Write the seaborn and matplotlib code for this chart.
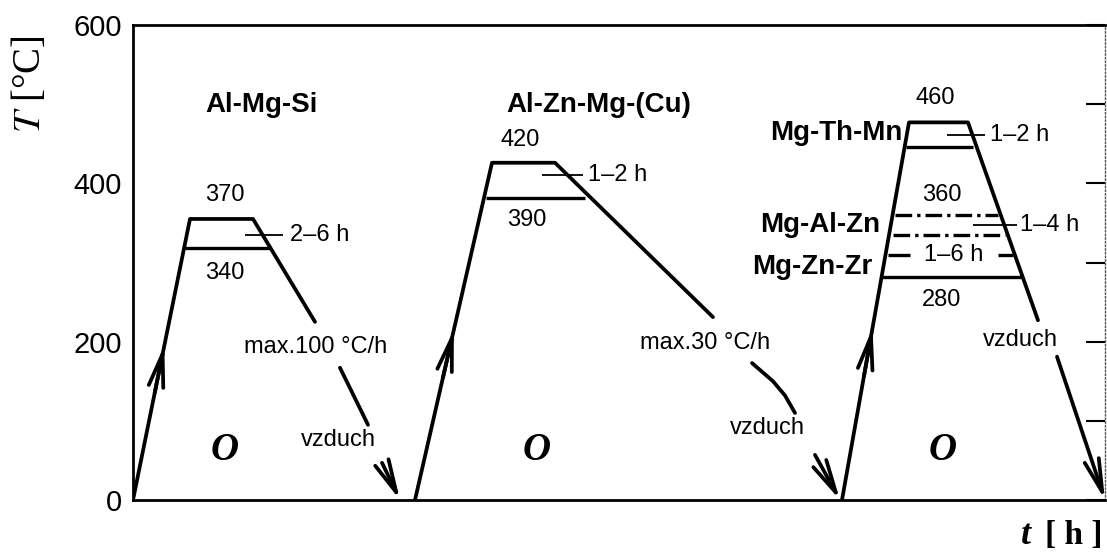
import matplotlib.pyplot as plt
import seaborn as sns

# Al-Mg-Si (t je jen schematicky cas, T ve °C)
almgsi_t = [0, 57, 120, 182]
almgsi_T = [0, 355, 355, 225]
almgsi_low_t = [52, 137]
almgsi_low_T = 318
almgsi_air_t = [207, 235]
almgsi_air_T = [167, 95]
almgsi_cool_t = [249, 267]
almgsi_cool_T = [47, 0]

# Al-Zn-Mg-(Cu)
alznmg_t = [282, 359, 422, 580]
alznmg_T = [0, 426, 426, 231]
alznmg_low_t = [353, 452]
alznmg_low_T = 381
alznmg_air_t = [619, 640, 652, 662]
alznmg_air_T = [173, 150, 132, 110]
alznmg_cool_t = [682, 707]
alznmg_cool_T = [57, 0]

# Mg slitiny
mg_t = [709, 776, 835, 905]
mg_T = [0, 477, 477, 227]
mg_cool_t = [924, 972]
mg_cool_T = [181, 0]
mg_levels_T = [446, 360, 335, 282]
mg_levels_from = [773, 762, 760, 749]
mg_levels_to = [840, 865, 872, 890]
mg_znzr_T = 309
mg_znzr_left = [755, 777]
mg_znzr_right = [865, 880]

yticks = [0, 100, 200, 300, 400, 500, 600]
ytick_labels = ["0", "", "200", "", "400", "", "600"]

sns.set_style("white")
plt.rcParams['font.family'] = ['Liberation Sans', 'DejaVu Sans']
plt.rcParams['mathtext.fontset'] = 'stix'
plt.rcParams['text.color'] = 'black'
plt.rcParams['ytick.color'] = 'black'

fig, ax = plt.subplots(figsize=(11.07, 5.54), dpi=100)
fig.subplots_adjust(left=133/1107, right=1105/1107, top=1 - 25/554, bottom=1 - 500/554)

LW = 2.7
kw = dict(color="black", sort=False, estimator=None, legend=False, ax=ax)

# hlavni krivky
sns.lineplot(x=almgsi_t, y=almgsi_T, lw=LW, **kw)
sns.lineplot(x=almgsi_air_t, y=almgsi_air_T, lw=LW, **kw)
sns.lineplot(x=alznmg_t, y=alznmg_T, lw=LW, **kw)
sns.lineplot(x=alznmg_air_t, y=alznmg_air_T, lw=LW, **kw)
sns.lineplot(x=mg_t, y=mg_T, lw=LW, **kw)

# spodni hladiny
ax.hlines(almgsi_low_T, *almgsi_low_t, color="black", lw=2.4)
ax.hlines(alznmg_low_T, *alznmg_low_t, color="black", lw=2.4)
styles = ["-", (0, (5, 1.5, 1, 1.5)), (0, (5, 1.5, 1, 1.5)), "-"]
for T, a, b, ls in zip(mg_levels_T, mg_levels_from, mg_levels_to, styles):
    ax.hlines(T, a, b, color="black", lw=2.4, linestyles=ls)
ax.hlines(mg_znzr_T, *mg_znzr_left, color="black", lw=2.4)
ax.hlines(mg_znzr_T, *mg_znzr_right, color="black", lw=2.4)

# sipky
head = "->,head_length=1.7,head_width=0.38"
def arrow(t0, T0, t1, T1):
    ax.annotate("", xy=(t1, T1), xytext=(t0, T0),
                arrowprops=dict(arrowstyle=head, lw=LW, color="black",
                                shrinkA=0, shrinkB=0, mutation_scale=14))

arrow(almgsi_cool_t[0], almgsi_cool_T[0], almgsi_cool_t[1], almgsi_cool_T[1])
arrow(alznmg_cool_t[0], alznmg_cool_T[0], alznmg_cool_t[1], alznmg_cool_T[1])
arrow(mg_cool_t[0], mg_cool_T[0], mg_cool_t[1], mg_cool_T[1])
# ohrev - sipky na stoupajicich vetvich
for t_lo, T_hi, t_hi, T_tip in [(almgsi_t[0], almgsi_T[1], almgsi_t[1], 195),
                                (alznmg_t[0], alznmg_T[1], alznmg_t[1], 215),
                                (mg_t[0], mg_T[1], mg_t[1], 217)]:
    k = (t_hi - t_lo) / T_hi
    arrow(t_lo + k * (T_tip - 60), T_tip - 60, t_lo + k * T_tip, T_tip)

# popisky
fs = 17
bold = dict(fontsize=20, fontweight="bold", va="center")
ax.text(128, 499, "Al-Mg-Si", ha="center", **bold)
ax.text(466, 499, "Al-Zn-Mg-(Cu)", ha="center", **bold)
ax.text(769, 464, "Mg-Th-Mn", ha="right", **bold)
ax.text(747, 347, "Mg-Al-Zn", ha="right", **bold)
ax.text(739, 294, "Mg-Zn-Zr", ha="right", **bold)

def txt(t, T, s, ha="center"):
    ax.text(t, T, s, fontsize=fs, ha=ha, va="center")

txt(92, 385, "370")
txt(92, 287, "340")
txt(157, 335, "2–6 h", ha="left")
txt(183, 193, "max.100 °C/h")
txt(205, 76, "vzduch")
txt(387, 455, "420")
txt(394, 354, "390")
txt(455, 410, "1–2 h", ha="left")
txt(572, 198, "max.30 °C/h")
txt(634, 91, "vzduch")
txt(802, 508, "460")
txt(857, 461, "1–2 h", ha="left")
txt(809, 385, "360")
txt(887, 347, "1–4 h", ha="left")
txt(821, 309, "1–6 h")
txt(809, 253, "280")
txt(887, 202, "vzduch")

# vodici carky k dobam vydrze
ax.hlines(335, 112, 150, color="black", lw=1.3)
ax.hlines(410, 409, 450, color="black", lw=1.3)
ax.hlines(461, 814, 852, color="black", lw=1.3)
ax.hlines(347, 840, 884, color="black", lw=1.3)

for t in [92, 404, 810]:
    ax.text(t, 62, "O", fontsize=28, fontstyle="italic", fontweight="bold",
            family="Liberation Serif", ha="center", va="center")

# osy
ax.set_xlim(0, 972)
ax.set_ylim(0, 600)
ax.set_xticks([])
ax.set_yticks(yticks)
ax.set_yticklabels(ytick_labels, fontsize=21)
ax.tick_params(axis="y", direction="in", length=14, width=1.5, pad=8, right=True)
for side in ["left", "bottom", "top"]:
    ax.spines[side].set_linewidth(2)
    ax.spines[side].set_color("black")
ax.spines["right"].set_linewidth(1)
ax.spines["right"].set_linestyle(":")
ax.spines["right"].set_color("#555555")

fig.text(30/1107, 1 - 84/554, r"$T$ [°C]", rotation=90, fontsize=28,
         family="Liberation Serif", ha="center", va="center")
fig.text(1026/1107, 1 - 535/554, "t", fontsize=26, fontstyle="italic", fontweight="bold",
         family="Liberation Serif", ha="center", va="center")
fig.text(1074/1107, 1 - 535/554, "[ h ]", fontsize=24, fontweight="bold",
         family="Liberation Serif", ha="center", va="center")

fig.savefig("out.png", dpi=100)
